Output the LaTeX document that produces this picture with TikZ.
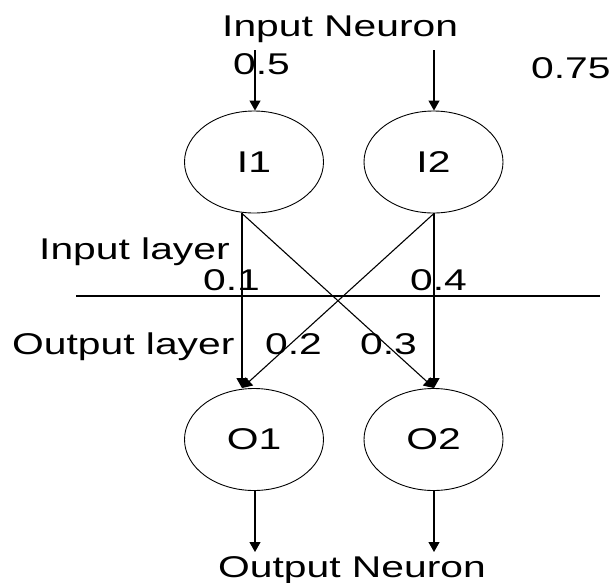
\documentclass[tikz,border=0pt]{standalone}
\usepackage{fontspec}
\setmainfont{Liberation Sans}[FakeStretch=1.36]
\usetikzlibrary{shapes.geometric,arrows.meta}
\begin{document}
\begin{tikzpicture}[x=1pt,y=-1pt,
  txt/.style={font=\fontsize{30}{36}\selectfont, inner sep=0pt, anchor=base west},
  neuron/.style={ellipse, draw, line width=0.9pt, minimum width=139pt, minimum height=102pt, inner sep=0pt, font=\fontsize{30}{36}\selectfont},
  conn/.style={line width=1.1pt, -{Triangle[length=10pt,width=11pt]}},
  plain/.style={line width=1.1pt}]
\useasboundingbox (0,0) rectangle (611,582);
% neurons
\node[neuron] (I1) at (254,162) {I1};
\node[neuron] (I2) at (433.5,162) {I2};
\node[neuron] (O1) at (254,439.5) {O1};
\node[neuron] (O2) at (433.5,439.5) {O2};
% texts
\node[txt] (tin) at (222,36) {Input Neuron};
\node[txt] (t05) at (233,74) {0.5};
\node[txt] (t075) at (531,78) {0.75};
\node[txt] (til) at (39,259) {Input layer};
\node[txt] (t01) at (203,290) {0.1};
\node[txt] (t04) at (410,290) {0.4};
\node[txt] (tol) at (12,354) {Output layer};
\node[txt] (t02) at (265,354) {0.2};
\node[txt] (t03) at (360,354) {0.3};
\node[txt] (tout) at (218,577) {Output Neuron};
% separator
\coordinate (hl) at (76,296);
\coordinate (hr) at (600,296);
\draw[plain] (hl) -- (hr);
% inputs
\coordinate (in1) at (255,50);
\coordinate (in2) at (434,50);
\draw[conn] (in1) -- (in1 |- I1.north);
\draw[conn] (in2) -- (in2 |- I2.north);
% connections
\coordinate (a1) at ([xshift=-12pt]I1.south);
\coordinate (a2) at ([xshift=0.5pt]I2.south);
\coordinate (b1) at ([xshift=-12pt]O1.north);
\coordinate (b2) at ([xshift=0.5pt]O2.north);
\draw[conn] (a1) -- (b1);
\draw[conn] (a1) -- (b2);
\draw[conn] (a2) -- (b2);
\draw[conn] (a2) -- (b1);
% outputs
\coordinate (out1) at (255,552);
\coordinate (out2) at (434,552);
\draw[conn] (O1.south -| out1) -- (out1);
\draw[conn] (O2.south -| out2) -- (out2);
\end{tikzpicture}
\end{document}
